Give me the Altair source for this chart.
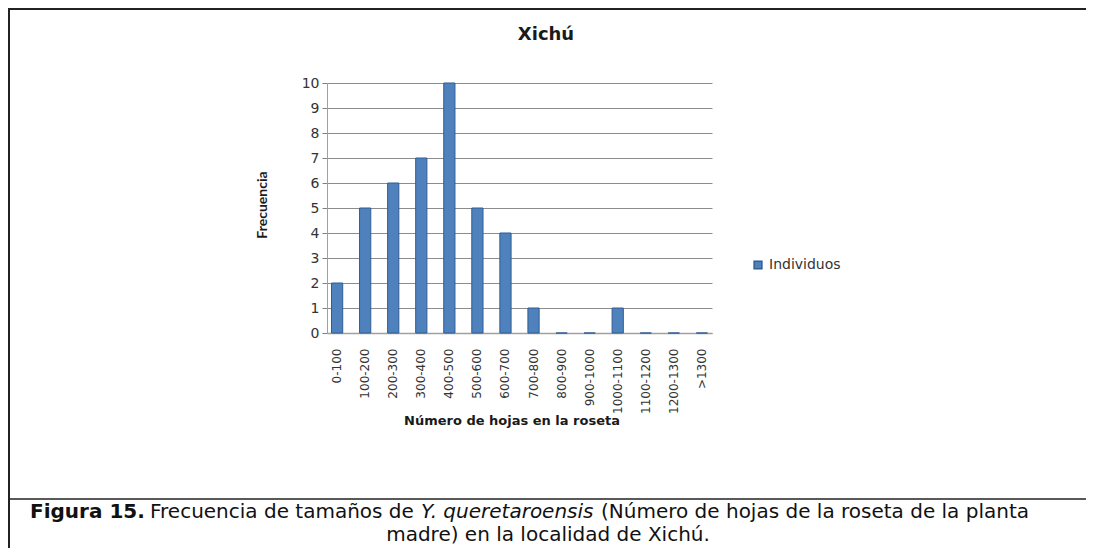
import altair as alt
import pandas as pd

categories = ["0-100", "100-200", "200-300", "300-400", "400-500", "500-600",
              "600-700", "700-800", "800-900", "900-1000", "1000-1100",
              "1100-1200", "1200-1300", ">1300"]
frequencies = [2, 5, 6, 7, 10, 5, 4, 1, 0, 0, 1, 0, 0, 0]
series_name = "Individuos"
y_ticks = list(range(0, 11))

chart_title = "Xichú"
x_title = "Número de hojas en la roseta"
y_title = "Frecuencia"
caption_parts = [
    ("Figura 15.", "bold", "normal"),
    ("Frecuencia de tamaños de", "normal", "normal"),
    ("Y. queretaroensis", "normal", "italic"),
    ("(Número de hojas de la roseta de la planta", "normal", "normal"),
]
caption_line2 = "madre) en la localidad de Xichú."

df = pd.DataFrame({"rango": categories, "frecuencia": frequencies,
                   "serie": [series_name] * len(categories)})

PL, PT = 319, 75
W, H = 385, 250
TOTW, TOTH = 1078, 540
OX, OY = 327, 83  # page coords of plot origin

def px(x):
    return x - OX

def py(y):
    return y - OY

FONT = "DejaVu Sans"
CAP_FONT = "DejaVu Sans"

base = alt.Chart(df)

bars = base.mark_bar(color="#4F81BD", stroke="#2F5D94", strokeWidth=1).encode(
    x=alt.X("rango:N", sort=categories,
            scale=alt.Scale(paddingInner=0.6, paddingOuter=0.16),
            axis=alt.Axis(title=None, labelAngle=270, labelFont=FONT, labelFontSize=12,
                          labelColor="#333333", labelPadding=15, ticks=False,
                          domainColor="#A0A0A0", domainWidth=1.5)),
    y=alt.Y("frecuencia:Q", scale=alt.Scale(domain=[0, 10], nice=False),
            axis=alt.Axis(title=None, values=y_ticks, labelFont=FONT, labelFontSize=14,
                          labelColor="#333333", labelPadding=3, tickSize=5,
                          tickColor="#808080", domainColor="#A0A0A0",
                          gridColor="#8C8C8C", gridWidth=1.2)),
    color=alt.Color("serie:N", scale=alt.Scale(range=["#4F81BD"]),
                    legend=alt.Legend(title=None, orient="none",
                                      legendX=px(751), legendY=py(258),
                                      symbolType="square", symbolSize=60,
                                      labelFont=FONT, labelFontSize=14,
                                      labelColor="#333333")),
)

def text_layer(txt, x, y, size, weight="normal", style="normal", angle=0,
               align="center", font=FONT, color="#262626"):
    d = pd.DataFrame({"t": [txt]})
    return alt.Chart(d).mark_text(
        fontSize=size, fontWeight=weight, fontStyle=style, angle=angle,
        align=align, baseline="middle", font=font, color=color
    ).encode(x=alt.value(x), y=alt.value(y), text="t:N")

title_l = text_layer(chart_title, px(546), py(35), 18, "bold", color="#1a1a1a")
ytitle_l = text_layer(y_title, px(263), py(205), 14, "bold", angle=270,
                      font="Lato", color="#1a1a1a")
xtitle_l = text_layer(x_title, px(512), py(421), 13, "bold", color="#1a1a1a")

cap_x = [30, 150, 421, 601]
cap_layers = []
for (txt, w, s), x0 in zip(caption_parts, cap_x):
    cap_layers.append(text_layer(txt, px(x0), py(512), 20, w, s, align="left",
                                 font=CAP_FONT, color="#111111"))
cap_layers.append(text_layer(caption_line2, px(548), py(535), 20, font=CAP_FONT,
                             color="#111111"))

def rule(x1, y1, x2, y2, color="#222222", w=2):
    d = pd.DataFrame({"k": [0]})
    return alt.Chart(d).mark_rule(color=color, strokeWidth=w).encode(
        x=alt.value(x1), x2=alt.value(x2), y=alt.value(y1), y2=alt.value(y2))

frame = [
    rule(px(8), py(9), px(1094), py(9)),             # top
    rule(px(9), py(8), px(9), py(556)),              # left
    rule(px(9), py(499), px(1094), py(499), w=1.5),  # separator
    rule(px(1088), py(8), px(1088), py(499), w=1.5),  # right
]

chart = alt.layer(bars, title_l, ytitle_l, xtitle_l, *cap_layers, *frame).properties(
    width=W, height=H,
    autosize=alt.AutoSizeParams(type="none"),
    padding={"left": PL, "top": PT, "right": TOTW - PL - W, "bottom": TOTH - PT - H},
    background="white",
).configure_view(stroke=None)

chart.save("out.html", embed_options={"renderer": "svg", "actions": False})
